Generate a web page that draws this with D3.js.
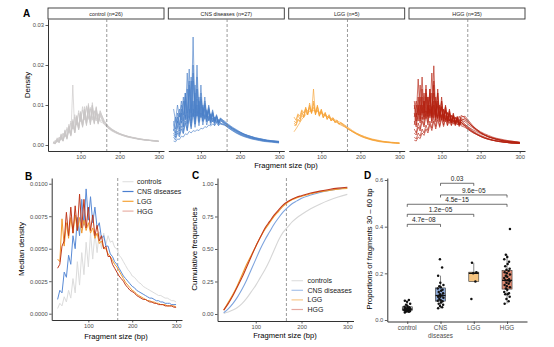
<!DOCTYPE html>
<html><head><meta charset="utf-8">
<script src="https://cdn.jsdelivr.net/npm/d3@7"></script>
<style>body{margin:0;background:#fff;} svg{display:block;font-family:"Liberation Sans",Arial,sans-serif;}</style>
</head><body><svg id="c" width="554" height="347"></svg>
<script>
// ---------------- DATA ----------------
// Panel A: fragment sizes (bp) and per-sample densities (values in units of 1e-4)
const panelTitlesA = ["control (n=26)", "CNS diseases (n=27)", "LGG (n=5)", "HGG (n=35)"];
const fragA = [30,35,40,45,50,55,60,65,70,75,80,85,90,95,100,105,110,115,120,125,130,135,140,145,150,160,170,180,190,200,210,220,230,240,250,260,270,280,290,300];
const densControl = [
 [6,4,15,6,24,10,34,16,46,24,64,32,74,40,82,46,88,50,92,52,90,54,86,54,78, 56,44,37,32,27,24,21,19,17,15,13,12,11,10,9],
 [5,3,12,6,20,9,30,14,42,22,150,30,70,38,80,44,90,48,104,50,98,52,88,52,76, 52,42,35,30,26,23,20,18,16,14,13,12,11,10,9],
 [8,5,18,9,28,14,38,20,52,28,60,36,68,44,76,50,84,54,100,58,106,60,92,58,80, 60,47,39,33,28,24,21,19,17,15,14,12,11,10,9],
 [4,3,10,6,18,10,26,16,36,24,48,30,58,38,70,46,80,52,96,56,98,58,94,58,84, 62,48,40,34,29,25,22,20,18,16,14,13,12,11,10],
 [7,4,16,8,26,12,36,18,48,26,58,34,72,42,84,48,96,54,94,56,88,56,80,54,72, 54,43,36,31,27,23,20,18,16,14,13,12,11,10,9],
 [6,4,13,7,22,11,32,18,44,26,56,34,66,42,78,48,88,52,96,54,100,56,96,56,86, 58,46,38,33,28,25,22,19,17,15,14,13,12,11,10],
 [4,10,7,18,12,28,20,40,30,55,40,70,50,80,58,88,62,94,64,90,62,84,60,76,58, 54,44,37,31,27,24,21,19,17,15,13,12,11,10,9],
 [5,12,8,20,14,30,22,44,32,60,42,76,52,86,60,96,66,98,68,94,66,86,64,78,62, 58,47,39,33,28,25,22,19,17,15,14,12,11,10,9]
];
const densCNS = [
 [40,25,60,35,80,45,120,55,160,60,270,65,200,70,150,72,120,70,100,66,88,62,76,58,68, 58,50,42,36,30,26,22,19,16,14,12,10,9,8,7],
 [60,40,80,50,100,60,130,65,150,70,200,72,170,74,130,72,110,68,96,64,84,60,74,56,66, 56,48,40,34,28,24,20,17,15,13,11,10,9,8,7],
 [20,12,30,20,40,28,55,36,70,44,90,52,100,58,96,60,90,60,84,58,76,56,70,54,64, 57,50,43,37,32,27,23,20,17,15,13,11,10,9,8],
 [10,8,15,14,22,20,28,26,34,30,36,34,38,36,42,40,46,44,50,48,52,50,54,50,52, 50,46,41,36,31,27,24,21,18,16,14,12,11,10,9],
 [90,60,100,70,110,75,130,80,190,80,180,80,140,78,120,74,104,70,92,66,82,60,72,56,64, 52,43,36,30,25,21,18,15,13,11,9,8,7,6,5],
 [30,20,45,28,60,36,75,42,90,48,110,52,115,56,110,58,100,58,90,56,80,54,72,52,66, 60,52,45,39,33,28,24,21,18,16,14,12,11,10,9],
 [50,30,70,40,90,46,110,52,140,55,160,58,140,60,115,60,100,58,88,56,78,54,70,52,62, 54,47,40,34,29,25,21,18,16,14,12,11,9,8,7],
 [25,18,35,24,48,30,60,36,72,40,80,44,84,48,80,50,76,50,72,50,68,48,64,48,60, 55,49,43,37,32,27,23,20,17,15,13,11,10,9,8],
 [35,60,45,80,55,110,62,140,68,170,70,150,72,120,70,100,66,88,62,78,58,70,56,64,54, 50,43,37,31,26,22,19,16,14,12,10,9,8,7,6],
 [50,70,55,90,62,120,66,180,70,160,72,130,72,110,68,94,64,84,60,76,58,68,56,62,54, 52,45,38,32,27,23,20,17,15,13,11,10,9,8,7]
];
const densLGG = [
 [60,55,75,65,85,70,95,75,105,80,140,75,100,72,90,68,82,64,76,60,68,56,62,52,56, 48,40,33,27,22,18,15,12,10,8,7,6,5,5,4],
 [70,62,78,72,88,80,92,84,96,82,94,78,88,74,82,70,76,66,70,62,64,58,58,54,52, 46,39,33,28,23,19,16,13,11,9,8,7,6,5,5],
 [33,40,48,56,64,70,76,80,84,86,86,85,84,82,80,77,74,71,68,65,62,59,56,53,50, 45,39,34,29,25,21,18,15,13,11,9,8,7,6,5],
 [55,50,65,60,80,72,90,76,100,78,110,76,96,72,86,68,78,64,72,60,66,56,60,52,55, 47,40,34,28,23,19,16,13,11,9,8,7,6,5,4],
 [50,48,62,58,74,68,86,76,92,80,104,82,96,78,88,74,80,70,74,66,68,62,62,58,56, 50,43,36,30,25,21,17,14,12,10,8,7,6,5,5]
];
const densHGG = [
 [80,50,100,60,120,65,130,70,140,70,198,72,140,70,120,66,100,62,90,58,80,54,70,50,62, 52,43,35,29,24,20,16,13,11,9,8,6,5,5,4],
 [110,70,165,75,170,80,140,78,120,76,130,74,110,70,96,66,86,62,78,58,70,54,64,50,58, 48,40,33,27,22,18,15,12,10,9,7,6,5,5,4],
 [40,30,55,40,70,50,85,56,100,60,110,62,104,62,96,60,88,58,80,56,74,54,68,52,62, 58,50,43,36,30,25,21,18,15,13,11,9,8,7,6],
 [20,15,30,22,40,30,50,36,60,42,70,46,74,48,76,50,74,50,72,50,70,50,68,50,66, 62,54,46,39,33,28,24,20,17,15,13,11,10,8,7],
 [60,45,80,55,100,62,120,66,130,68,150,68,130,66,110,64,96,60,86,56,76,54,70,52,70, 72,60,48,39,31,25,20,17,14,12,10,8,7,6,5],
 [100,60,120,65,140,70,150,72,140,72,160,70,130,68,110,64,96,60,84,56,74,52,66,48,58, 46,38,31,26,21,17,14,12,10,8,7,6,5,4,4],
 [30,25,45,35,60,45,75,50,90,55,100,58,98,58,92,58,86,56,80,56,76,56,72,58,74, 68,56,45,37,30,25,21,17,14,12,10,9,8,7,6],
 [12,10,20,16,30,24,40,30,52,36,60,40,64,44,66,46,66,48,64,48,62,48,60,46,56, 50,44,38,33,28,24,20,17,15,13,11,10,9,8,7],
 [70,100,75,150,80,130,82,120,80,180,76,120,72,100,68,90,64,82,60,74,56,68,54,64,52, 48,40,33,27,22,18,15,12,10,9,7,6,5,5,4],
 [50,80,60,100,64,110,66,120,68,130,68,110,66,96,64,88,62,80,60,74,58,70,58,72,62, 66,56,46,38,31,26,21,18,15,12,10,9,8,7,6],
 [90,110,80,120,76,110,74,100,72,96,70,90,66,84,62,78,58,72,54,66,52,62,50,58,48, 44,37,31,26,21,17,14,12,10,8,7,6,5,4,4]
];
const densUnit = 1e-4;

// Panel B: median densities
const fragB = [30,35,40,45,50,55,60,65,70,75,80,85,90,95,100,105,110,115,120,125,130,135,140,145,150,155,160,165,170,175,180,185,190,195,200,205,210,215,220,225,230,235,240,245,250,255,260,265,270,275,280,285,290,295,300];
const medControl = [0.0004,0.0008,0.0006,0.0013,0.0009,0.0018,0.0012,0.0027,0.0016,0.0040,0.0022,0.0047,0.0030,0.0055,0.0036,0.0062,0.0042,0.0062,0.0047,0.0063,0.0050,0.0062,0.0053,0.0060,0.0055,
 0.0056,0.0051,0.0050,0.0045,0.0043,0.0040,0.0037,0.0034,0.0032,0.0029,
 0.0028,0.0026,0.0024,0.0023,0.0021,0.0020,0.0019,0.0018,0.0017,0.0016,
 0.0015,0.0014,0.0014,0.0013,0.0012,0.0012,0.0011,0.0010,0.0010,0.0009];
const medCNS = [0.0011,0.0018,0.0016,0.0032,0.0028,0.0045,0.0038,0.0060,0.0050,0.0074,0.0060,0.0088,0.0068,0.0096,0.0072,0.0090,0.0070,0.0082,0.0066,0.0070,0.0058,0.0060,0.0052,0.0052,0.0046,
 0.0044,0.0040,0.0038,0.0035,0.0032,0.0029,0.0027,0.0025,0.0023,0.0021,
 0.0020,0.0018,0.0017,0.0016,0.0015,0.0014,0.0013,0.0012,0.0012,0.0011,
 0.0010,0.0010,0.0009,0.0009,0.0008,0.0008,0.0008,0.0007,0.0007,0.0007];
const medLGG = [0.0042,0.0040,0.0073,0.0052,0.0070,0.0058,0.0074,0.0062,0.0076,0.0064,0.0074,0.0062,0.0072,0.0064,0.0070,0.0062,0.0066,0.0058,0.0062,0.0054,0.0056,0.0050,0.0050,0.0046,0.0044,
 0.0041,0.0038,0.0036,0.0033,0.0030,0.0027,0.0024,0.0022,0.0020,0.0018,
 0.0017,0.0015,0.0014,0.0013,0.0012,0.0011,0.0010,0.0010,0.0009,0.0009,
 0.0008,0.0008,0.0007,0.0007,0.0007,0.0006,0.0006,0.0006,0.0006,0.0005];
const medHGG = [0.0035,0.0038,0.0052,0.0056,0.0078,0.0060,0.0082,0.0062,0.0083,0.0064,0.0092,0.0066,0.0088,0.0066,0.0082,0.0064,0.0076,0.0060,0.0068,0.0056,0.0060,0.0050,0.0052,0.0044,0.0044,
 0.0038,0.0035,0.0032,0.0029,0.0027,0.0025,0.0022,0.0020,0.0018,0.0017,
 0.0016,0.0014,0.0013,0.0012,0.0011,0.0011,0.0010,0.0009,0.0009,0.0008,
 0.0008,0.0007,0.0007,0.0007,0.0006,0.0006,0.0006,0.0006,0.0005,0.0005];

// Panel C: cumulative frequencies
const fragC = [30,40,50,60,70,80,90,100,110,120,130,140,150,160,170,180,190,200,220,240,260,280,300];
const cumControl = [0.005,0.015,0.03,0.05,0.08,0.12,0.17,0.22,0.28,0.34,0.41,0.49,0.57,0.63,0.67,0.71,0.74,0.765,0.81,0.845,0.875,0.90,0.92];
const cumCNS = [0.01,0.04,0.08,0.13,0.19,0.26,0.34,0.42,0.50,0.57,0.63,0.69,0.74,0.785,0.82,0.85,0.87,0.89,0.915,0.935,0.95,0.962,0.97];
const cumLGG = [0.03,0.09,0.15,0.22,0.30,0.38,0.45,0.52,0.59,0.65,0.70,0.75,0.79,0.83,0.86,0.88,0.895,0.905,0.925,0.94,0.95,0.96,0.965];
const cumHGG = [0.03,0.08,0.14,0.21,0.28,0.36,0.44,0.52,0.59,0.66,0.71,0.76,0.80,0.84,0.865,0.885,0.90,0.91,0.93,0.945,0.958,0.968,0.975];
const legendLabels = ["controls", "CNS diseases", "LGG", "HGG"];

// Panel D: proportions of fragments 30-60 bp
const catsD = ["control", "CNS\ndiseases", "LGG", "HGG"];
const propControl = [0.032,0.035,0.036,0.038,0.039,0.040,0.041,0.042,0.043,0.044,0.045,0.045,0.046,0.047,0.048,0.050,0.051,0.053,0.055,0.057,0.060,0.065,0.070,0.078,0.083,0.086];
const propCNS = [0.050,0.055,0.060,0.065,0.070,0.075,0.080,0.082,0.085,0.090,0.095,0.100,0.100,0.105,0.110,0.115,0.120,0.125,0.130,0.135,0.140,0.145,0.150,0.160,0.190,0.225,0.260];
const propLGG = [0.090,0.165,0.200,0.205,0.245];
const propHGG = [0.070,0.080,0.090,0.100,0.110,0.110,0.115,0.120,0.130,0.135,0.140,0.145,0.150,0.155,0.160,0.165,0.170,0.170,0.175,0.180,0.185,0.190,0.195,0.200,0.205,0.210,0.215,0.220,0.230,0.240,0.250,0.260,0.270,0.280,0.390];
const sigFrom = [2,2,1,1,1];
const sigTo   = [3,4,4,3,2];
const sigY    = [0.586,0.536,0.496,0.453,0.410];
const sigLabels = ["0.03","9.6e\u221205","4.5e\u221215","1.2e\u221205","4.7e\u221208"];
const cutoffBp = 167;

// ---------------- STYLE ----------------
const colA = ["#c9c7c7", "#4a80c8", "#f5a032", "#b3200e"];
const colB = ["#dcdcdc", "#5a8bd6", "#f39a2e", "#c0391c"];
const colBLegend = ["#e3e3e3", "#4a7fd0", "#f5a337", "#e9b0a6"];
const colC = ["#d6d6d6", "#7ea4de", "#f09a2c", "#c23a1d"];
const colCLegend = ["#e0e0e0", "#a9c3ea", "#f8c98c", "#e6a89f"];
const fillD = ["#c8c8c8", "#8eaad8", "#f6c47f", "#e08b72"];
const axisCol = "#333", tickTxt = "#4d4d4d";

const svg = d3.select("#c");

function styleAxis(g, fs) {
  g.select(".domain").attr("stroke", axisCol).attr("stroke-width", 1);
  g.selectAll(".tick line").attr("stroke", axisCol).attr("stroke-width", 0.8);
  g.selectAll(".tick text").attr("fill", tickTxt).style("font-size", (fs||5.8) + "px").attr("font-family", null);
}
function label(txt, x, y, opts) {
  const t = svg.append("text").attr("x", x).attr("y", y).text(txt)
    .style("font-size", (opts.size||7.5) + "px").attr("fill", opts.fill||"#000")
    .attr("text-anchor", opts.anchor||"middle");
  if (opts.bold) t.attr("font-weight", "bold");
  if (opts.rotate) t.attr("transform", `rotate(-90,${x},${y})`);
  return t;
}

// ---------------- PANEL A ----------------
const densA = [densControl, densCNS, densLGG, densHGG];
const panelX0 = [48, 168.3, 288.7, 409];
const panelW = 116;
const yA = d3.scaleLinear().domain([-0.0015, 0.0315]).range([151, 19]);
panelX0.forEach((x0, i) => {
  const xA = d3.scaleLinear().domain([16.5, 313.5]).range([x0, x0 + panelW]);
  svg.append("rect").attr("x", x0).attr("y", 8).attr("width", panelW).attr("height", 11)
    .attr("fill", "#fff").attr("stroke", "#333").attr("stroke-width", 0.9);
  label(panelTitlesA[i], x0 + panelW / 2, 15.6, {size: 5.4, fill: "#1a1a1a"});
  const line = d3.line().x(d => xA(d[0])).y(d => yA(d[1] * densUnit));
  densA[i].forEach(arr => {
    svg.append("path").datum(d3.zip(fragA, arr)).attr("d", line)
      .attr("fill", "none").attr("stroke", colA[i]).attr("stroke-width", 0.75).attr("stroke-opacity", 0.85)
      .attr("stroke-linejoin", "round");
  });
  svg.append("line").attr("x1", xA(cutoffBp)).attr("x2", xA(cutoffBp)).attr("y1", 19).attr("y2", 151)
    .attr("stroke", "#808080").attr("stroke-width", 0.8).attr("stroke-dasharray", "3,2");
  const gx = svg.append("g").attr("transform", "translate(0,151)")
    .call(d3.axisBottom(xA).tickValues([100, 200, 300]).tickSize(2.5).tickPadding(1.5).tickSizeOuter(0));
  styleAxis(gx);
  if (i === 0) {
    const gy = svg.append("g").attr("transform", `translate(${x0},0)`)
      .call(d3.axisLeft(yA).tickValues([0, 0.01, 0.02, 0.03]).tickFormat(d3.format(".2f")).tickSize(2.5).tickPadding(1.5).tickSizeOuter(0));
    styleAxis(gy);
  }
});
label("A", 23, 17, {size: 10, bold: true, anchor: "start"});
label("Density", 30, 85, {size: 8, rotate: true});
label("Fragment size (bp)", 286, 167.5, {size: 7.6});

// ---------------- PANEL B ----------------
const xB = d3.scaleLinear().domain([16.5, 313.5]).range([51.7, 182]);
const yB = d3.scaleLinear().domain([-0.000485, 0.01044]).range([320, 178]);
const medAll = [medControl, medCNS, medLGG, medHGG];
svg.append("line").attr("x1", xB(cutoffBp)).attr("x2", xB(cutoffBp)).attr("y1", 178).attr("y2", 320)
  .attr("stroke", "#808080").attr("stroke-width", 0.8).attr("stroke-dasharray", "3,2");
const lineB = d3.line().x(d => xB(d[0])).y(d => yB(d[1]));
medAll.forEach((arr, i) => {
  svg.append("path").datum(d3.zip(fragB, arr)).attr("d", lineB).attr("fill", "none")
    .attr("stroke", colB[i]).attr("stroke-width", 1).attr("stroke-linejoin", "round");
});
{
  const gx = svg.append("g").attr("transform", "translate(0,320)")
    .call(d3.axisBottom(xB).tickValues([100, 200, 300]).tickSize(2.5).tickPadding(1.5).tickSizeOuter(0));
  styleAxis(gx);
  const gy = svg.append("g").attr("transform", "translate(51.7,0)")
    .call(d3.axisLeft(yB).tickValues([0, 0.0025, 0.005, 0.0075, 0.01]).tickFormat(d3.format(".4f")).tickSize(2.5).tickPadding(1.5).tickSizeOuter(0));
  styleAxis(gy);
}
legendLabels.forEach((t, i) => {
  const yy = 181.7 + i * 9.8;
  svg.append("line").attr("x1", 122.5).attr("x2", 133.5).attr("y1", yy).attr("y2", yy)
    .attr("stroke", colBLegend[i]).attr("stroke-width", 1.2);
  label(t, 137, yy + 2.5, {size: 7, anchor: "start", fill: "#1a1a1a"});
});
label("B", 25, 180, {size: 10, bold: true, anchor: "start"});
label("Median density", 24, 249, {size: 8, rotate: true});
label("Fragment size (bp)", 116, 338.5, {size: 7.6});

// ---------------- PANEL C ----------------
const xC = d3.scaleLinear().domain([16.5, 313.5]).range([217.5, 353.5]);
const yC = d3.scaleLinear().domain([-0.0538, 1.046]).range([321, 178]);
const cumAll = [cumControl, cumCNS, cumLGG, cumHGG];
svg.append("line").attr("x1", xC(cutoffBp)).attr("x2", xC(cutoffBp)).attr("y1", 178).attr("y2", 321)
  .attr("stroke", "#808080").attr("stroke-width", 0.8).attr("stroke-dasharray", "3,2");
const lineC = d3.line().curve(d3.curveMonotoneX).x(d => xC(d[0])).y(d => yC(d[1]));
cumAll.forEach((arr, i) => {
  svg.append("path").datum(d3.zip(fragC, arr)).attr("d", lineC).attr("fill", "none")
    .attr("stroke", colC[i]).attr("stroke-width", 1.1);
});
{
  const gx = svg.append("g").attr("transform", "translate(0,321)")
    .call(d3.axisBottom(xC).tickValues([100, 200, 300]).tickSize(2.5).tickPadding(1.5).tickSizeOuter(0));
  styleAxis(gx);
  const gy = svg.append("g").attr("transform", "translate(217.5,0)")
    .call(d3.axisLeft(yC).tickValues([0, 0.25, 0.5, 0.75, 1]).tickFormat(d3.format(".2f")).tickSize(2.5).tickPadding(1.5).tickSizeOuter(0));
  styleAxis(gy);
}
legendLabels.forEach((t, i) => {
  const yy = 280.7 + i * 9.6;
  svg.append("line").attr("x1", 291.5).attr("x2", 303).attr("y1", yy).attr("y2", yy)
    .attr("stroke", colCLegend[i]).attr("stroke-width", 1.2);
  label(t, 307.5, yy + 2.5, {size: 7, anchor: "start", fill: "#1a1a1a"});
});
label("C", 192, 179, {size: 10, bold: true, anchor: "start"});
label("Cumulative frequencies", 197, 249, {size: 8, rotate: true});
label("Fragment size (bp)", 285, 337.5, {size: 7.6});

// ---------------- PANEL D ----------------
const xD = d3.scaleLinear().domain([0.4, 4.6]).range([387.3, 527]);
const yD = d3.scaleLinear().domain([-0.0064, 0.6086]).range([321.5, 178]);
const propAll = [propControl, propCNS, propLGG, propHGG];
propAll.forEach((vals, i) => {
  const s = vals.slice().sort(d3.ascending);
  const q1 = d3.quantile(s, 0.25), med = d3.quantile(s, 0.5), q3 = d3.quantile(s, 0.75);
  const iqr = q3 - q1;
  const lo = d3.min(s.filter(v => v >= q1 - 1.5 * iqr));
  const hi = d3.max(s.filter(v => v <= q3 + 1.5 * iqr));
  const cx = xD(i + 1), bw = 10;
  svg.append("line").attr("x1", cx).attr("x2", cx).attr("y1", yD(hi)).attr("y2", yD(q3)).attr("stroke", "#333").attr("stroke-width", 0.6);
  svg.append("line").attr("x1", cx).attr("x2", cx).attr("y1", yD(lo)).attr("y2", yD(q1)).attr("stroke", "#333").attr("stroke-width", 0.6);
  svg.append("rect").attr("x", cx - bw / 2).attr("y", yD(q3)).attr("width", bw).attr("height", yD(q1) - yD(q3))
    .attr("fill", fillD[i]).attr("stroke", "#333").attr("stroke-width", 0.6);
  svg.append("line").attr("x1", cx - bw / 2).attr("x2", cx + bw / 2).attr("y1", yD(med)).attr("y2", yD(med))
    .attr("stroke", "#111").attr("stroke-width", 1.3);
  const offs = [-2.4, 1.6, -0.6, 2.6, -1.8, 0.6, 2.0, -2.8, 0.2, -1.2, 2.9, -0.2];
  vals.forEach((v, j) => {
    svg.append("circle").attr("cx", cx + offs[j % offs.length]).attr("cy", yD(v)).attr("r", 1.25).attr("fill", "#111");
  });
});
sigY.forEach((yv, k) => {
  const xa = xD(sigFrom[k]), xb = xD(sigTo[k]);
  const yy = yD(yv), tip = yD(yv - 0.011);
  svg.append("path").attr("d", `M${xa},${tip}L${xa},${yy}L${xb},${yy}L${xb},${tip}`)
    .attr("fill", "none").attr("stroke", "#333").attr("stroke-width", 0.7);
  label(sigLabels[k], (xa + xb) / 2, yy - 2, {size: 6.5, fill: "#1a1a1a"});
});
{
  const gx = svg.append("g").attr("transform", "translate(0,321.5)")
    .call(d3.axisBottom(xD).tickValues([1, 2, 3, 4]).tickFormat("").tickSize(2.5).tickSizeOuter(0));
  styleAxis(gx);
  const gy = svg.append("g").attr("transform", "translate(387.3,0)")
    .call(d3.axisLeft(yD).tickValues([0, 0.2, 0.4, 0.6]).tickFormat(d3.format(".1f")).tickSize(2.5).tickPadding(1.5).tickSizeOuter(0));
  styleAxis(gy);
}
catsD.forEach((c, i) => {
  c.split("\n").forEach((ln, k) => {
    label(ln, xD(i + 1), 330 + k * 7.6, {size: 6.3, fill: tickTxt});
  });
});
label("D", 364, 179, {size: 10, bold: true, anchor: "start"});
label("Proportions of fragments 30 \u2013 60 bp", 372, 249, {size: 7.6, rotate: true});
</script></body></html>
